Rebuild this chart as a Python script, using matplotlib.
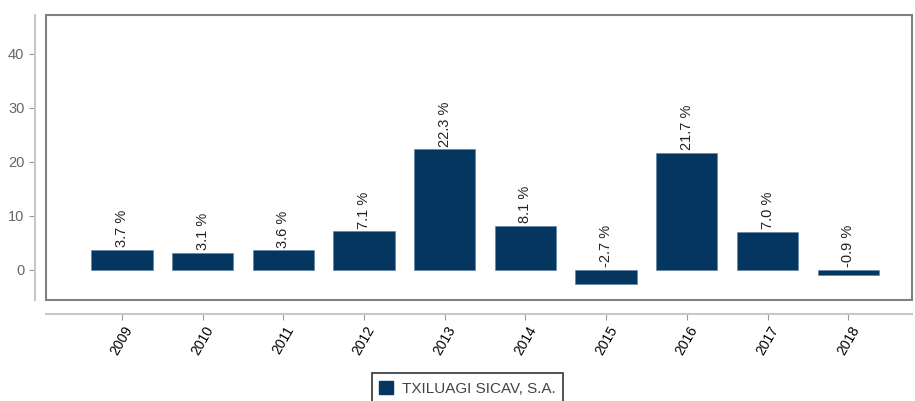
import matplotlib.pyplot as plt
from matplotlib.patches import Rectangle

plt.rcParams['font.family'] = ['Liberation Sans', 'DejaVu Sans']

years = ['2009', '2010', '2011', '2012', '2013', '2014', '2015', '2016', '2017', '2018']
returns = [3.7, 3.1, 3.6, 7.1, 22.3, 8.1, -2.7, 21.7, 7.0, -0.9]
series_name = 'TXILUAGI SICAV, S.A.'

bar_color = '#04365f'
grey = '#9a9a9a'

fig = plt.figure(figsize=(9.15, 4.01), dpi=100)
ax = fig.add_axes([0.0503, 0.252, 0.9464, 0.7108])

x = range(len(years))
ax.bar(x, returns, width=0.76, color=bar_color, edgecolor='#5a7fa3', linewidth=0.4)

# value labels, always above the zero line
for i, v in enumerate(returns):
    ax.annotate(f'{v:.1f} %', (i, max(v, 0)), xytext=(0, 2), textcoords='offset points',
                rotation=90, ha='center', va='bottom', fontsize=10.5, color='#222222')

ax.set_xlim(-0.94, 9.79)
ax.set_ylim(-5.6, 47.2)
ax.set_yticks([0, 10, 20, 30, 40])
ax.set_xticks(list(x))
ax.set_xticklabels(years, fontsize=9, color='#444444')
ax.tick_params(axis='y', labelsize=10.5, labelcolor='#666666', color=grey, length=4, width=0.8)
ax.tick_params(axis='x', color=grey, length=4, width=0.8, pad=3, labelrotation=60)
for lbl in ax.get_xticklabels():
    lbl.set_ha('center')

# axis lines sit outside the frame
for side in ['top', 'right']:
    ax.spines[side].set_visible(False)
ax.spines['left'].set_position(('outward', 8))
ax.spines['bottom'].set_position(('outward', 10))
ax.spines['left'].set_color('#c8c8c8')
ax.spines['bottom'].set_color('#c8c8c8')
ax.spines['left'].set_linewidth(1.5)
ax.spines['bottom'].set_linewidth(1.5)
ax.spines['left'].set_bounds(-5.6, 47.2)

ax.add_patch(Rectangle((0, 0), 1, 1, transform=ax.transAxes, fill=False,
                       edgecolor='#808080', linewidth=1.5, clip_on=False))

handle = Rectangle((0, 0), 1, 1, color=bar_color)
leg = fig.legend([handle], [series_name], loc='upper center', bbox_to_anchor=(0.511, 0.069),
                 fontsize=11, frameon=True, fancybox=False, handlelength=0.9, handleheight=0.9,
                 borderpad=0.5, handletextpad=0.6, borderaxespad=0)
leg.get_frame().set_edgecolor('#000000')
leg.get_frame().set_linewidth(1.2)
for t in leg.get_texts():
    t.set_color('#444444')

fig.savefig('out.png', dpi=100)
